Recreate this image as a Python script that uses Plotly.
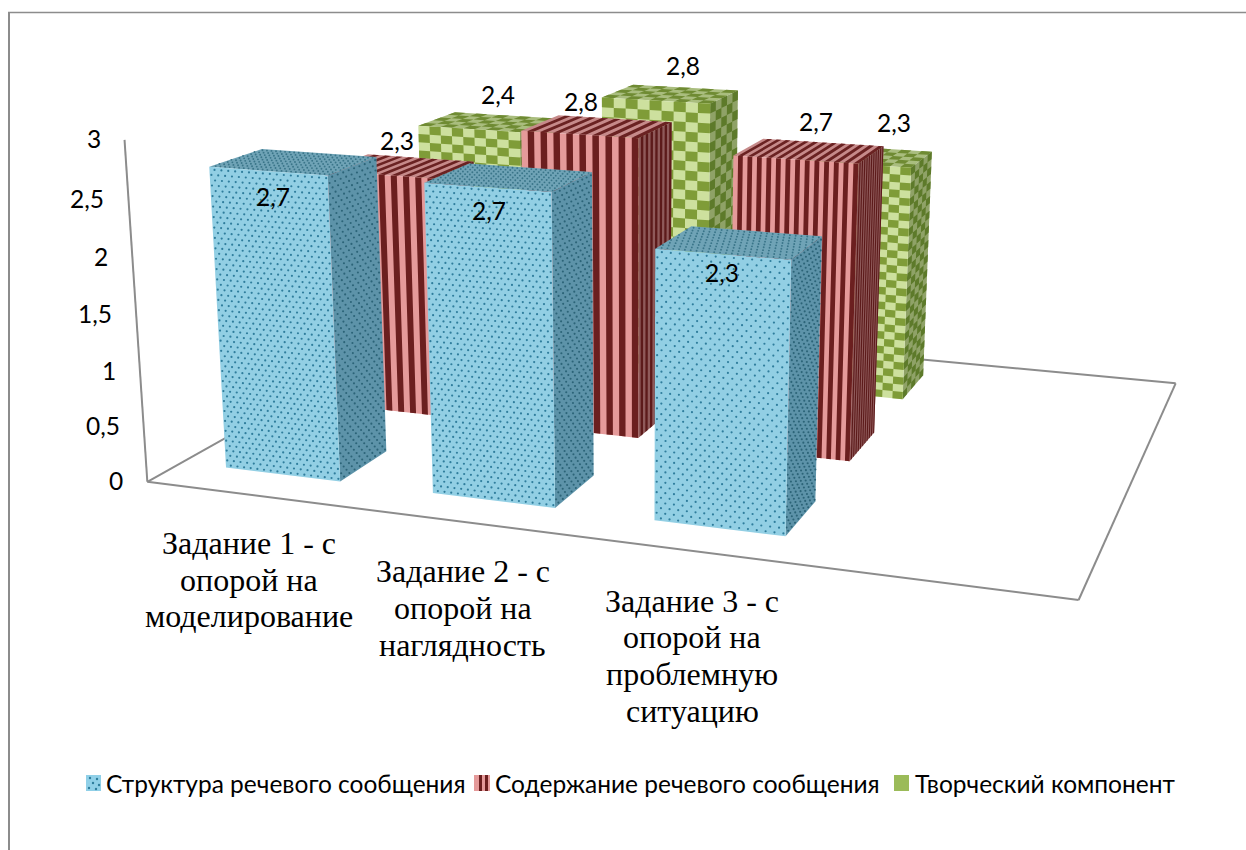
import numpy as np
import plotly.graph_objects as go

# ---------- data ----------
CATEGORIES = ["Задание 1 - с\nопорой на\nмоделирование",
              "Задание 2 - с\nопорой на\nнаглядность",
              "Задание 3 - с\nопорой на\nпроблемную\nситуацию"]
SERIES = ["Структура речевого сообщения", "Содержание речевого сообщения", "Творческий компонент"]
STRUCTURE = [2.7, 2.7, 2.3]
CONTENT = [2.3, 2.8, 2.7]
CREATIVE = [2.4, 2.8, 2.3]
Y_TICKS = [0, 0.5, 1, 1.5, 2, 2.5, 3]
Y_TICK_LABELS = ["0", "0,5", "1", "1,5", "2", "2,5", "3"]

# ---------- 3D box geometry ----------
N_CATS = 4          # the floor has one empty slot
N_ROWS = 3
Y_MAX = 3
U_OFF, U_W = 0.22, 0.56
W_OFF, W_D = 0.28, 0.44

def box(i, j):
    return i + U_OFF, i + U_OFF + U_W, j + W_OFF, j + W_OFF + W_D

# camera calibration: (u, w, v) -> pixel, solved by least squares
def cam_pts():
    pts = []
    for _ in range(4):
        pts += [((0, 0, 0), (147, 482)), ((4, 0, 0), (1078, 601)),
                ((4, 3, 0), (1175, 382)), ((0, 0, 3), (125, 140))]
    def add(i, j, h, fl=None, fr=None, br=None, bl=None, bfl=None, bfr=None, bbr=None):
        u0, u1, w0, w1 = box(i, j)
        for c, p in [((u0, w0, h), fl), ((u1, w0, h), fr), ((u1, w1, h), br), ((u0, w1, h), bl),
                     ((u0, w0, 0), bfl), ((u1, w0, 0), bfr), ((u1, w1, 0), bbr)]:
            if p:
                pts.append((c, p))
    add(0, 0, 2.7, (211, 166), (331, 173), (372, 158), (257, 151), (227, 465), (343, 480), (383, 452))
    add(1, 0, 2.7, (423, 182), (553, 190), (589, 173), (472, 165), (432, 491), (557, 507), (592, 478))
    add(2, 0, 2.3, (653, 249), (790, 256), (820, 238), (705, 228), (653, 518), (785, 535), (817, 505))
    add(1, 1, 2.8, (522, 130), (635, 138), (670, 123), (557, 117), None, (640, 437), (667, 413))
    add(2, 1, 2.7, (733, 155), (860, 163), (882, 148), (760, 139), None, (851, 461), (875, 435))
    add(0, 2, 2.4, (420, 125), None, None, (455, 113))
    add(1, 2, 2.8, (603, 96), (712, 102), (737, 92), (633, 85))
    add(2, 2, 2.3, None, (913, 165), (932, 153), None, None, (906, 399), (924, 377))
    return pts

rows = []
for (u, w, v), (x, y) in cam_pts():
    X, Y = x / 1000, y / 1000
    rows.append([u, w, v, 1, 0, 0, 0, 0, -X*u, -X*w, -X*v, -X])
    rows.append([0, 0, 0, 0, u, w, v, 1, -Y*u, -Y*w, -Y*v, -Y])
CAM = np.linalg.svd(np.array(rows, float))[2][-1].reshape(3, 4)

def proj(u, w, v):
    q = CAM @ np.array([u, w, v, 1.0])
    return float(q[0] / q[2] * 1000), float(q[1] / q[2] * 1000)

# ---------- face styles ----------
BLUE = dict(front=("#92cfe4", "#2f7d9c"), side=("#5d93a9", "#2c6478"), top=("#6fa3b6", "#3a7589"))
RED = dict(front=("#e59a9a", "#6b1f1f"), side=("#8f5a5a", "#5c1a1a"), top=("#c68a8a", "#6a2222"))
GREEN = dict(front=("#cde09e", "#7f9c38"), side=("#8fa267", "#5d7a2a"), top=("#a9bd7e", "#6f8b33"))
DOT_FRONT = [17, 18, 15]
STRIPE_FRONT = [9, 9, 13]
STRIPE_SIDE = [6, 7, 11]
CHECK_COLS = [9, 9, 11]
CHECK_ROWS = [28, 29, 31]

fig = go.Figure()

def face_point(corners, s, t):
    a, b, c, d = [np.array(k, float) for k in corners]   # a->b along s, a->d along t
    p = a + (b - a) * s + (d - a) * t + (a - b + c - d) * s * t
    return proj(*p)

def add_poly(polys, color, name):
    xs, ys = [], []
    for poly in polys:
        xs += [p[0] for p in poly] + [poly[0][0], None]
        ys += [p[1] for p in poly] + [poly[0][1], None]
    fig.add_trace(go.Scatter(x=xs, y=ys, mode="lines", fill="toself", fillcolor=color,
                             line=dict(width=0, color=color), name=name, showlegend=False,
                             hoverinfo="skip"))

def sub(corners, s0, s1, t0, t1):
    return [face_point(corners, s0, t0), face_point(corners, s1, t0),
            face_point(corners, s1, t1), face_point(corners, s0, t1)]

def add_stripes(corners, n, color, name):
    # each period: light then dark; first half stays the base colour
    add_poly([sub(corners, (k + 0.5) / n, (k + 1) / n, 0, 1) for k in range(n)], color, name)

def add_checks(corners, nc, nr, color, name):
    polys = [sub(corners, c / nc, (c + 1) / nc, r / nr, (r + 1) / nr)
             for c in range(nc) for r in range(nr) if (c + r) % 2 == 0]
    add_poly(polys, color, name)

def add_dots(corners, nc, nr, color, name, size=2.4):
    xs, ys = [], []
    for r in range(nr):
        for c in range(nc):
            s = (c + (0.25 if r % 2 else 0.75)) / nc
            t = (r + 0.5) / nr
            x, y = face_point(corners, s, t)
            xs.append(x)
            ys.append(y)
    fig.add_trace(go.Scatter(x=xs, y=ys, mode="markers", name=name, showlegend=False,
                             marker=dict(size=size, color=color, line=dict(width=0)),
                             hoverinfo="skip"))

def faces(i, j, h):
    u0, u1, w0, w1 = box(i, j)
    front = [(u0, w0, 0), (u1, w0, 0), (u1, w0, h), (u0, w0, h)]
    side = [(u1, w0, 0), (u1, w1, 0), (u1, w1, h), (u1, w0, h)]
    top = [(u0, w0, h), (u1, w0, h), (u1, w1, h), (u0, w1, h)]
    return front, side, top

def draw_bar(i, j, h):
    name = f"{SERIES[j]}: {CATEGORIES[i].split(chr(10))[0]}"
    front, side, top = faces(i, j, h)
    style = [BLUE, RED, GREEN][j]
    for key, f in [("top", top), ("side", side), ("front", front)]:
        base, ink = style[key]
        add_poly([[proj(*p) for p in f]], base, name)
        if j == 0:
            n = DOT_FRONT[i]
            rows_ = int(round(h * 22))
            if key == "front":
                add_dots(f, n, rows_, ink, name, 2.2)
            elif key == "side":
                add_dots(f, 9, rows_, ink, name, 2.1)
            else:
                add_dots(f, n + 8, 9, ink, name, 1.9)
        elif j == 1:
            if key == "side":
                add_stripes(f, STRIPE_SIDE[i], ink, name)
            else:
                add_stripes(f, STRIPE_FRONT[i], ink, name)
        else:
            cols, rws = CHECK_COLS[i], CHECK_ROWS[i]
            if key == "front":
                add_checks(f, cols, rws, ink, name)
            elif key == "side":
                add_checks(f, 5, rws, ink, name)
            else:
                add_checks(f, cols, 5, ink, name)

# ---------- floor / axis lines ----------
def add_line(a, b):
    p, q = proj(*a), proj(*b)
    fig.add_trace(go.Scatter(x=[p[0], q[0]], y=[p[1], q[1]], mode="lines",
                             line=dict(color="#8c8c8c", width=2), showlegend=False,
                             hoverinfo="skip", name="axis"))

add_line((0, 3, 0), (N_CATS, N_ROWS, 0))
add_line((N_CATS, N_ROWS, 0), (N_CATS, 0, 0))
add_line((0, 0, 0), (0, N_ROWS, 0))
add_line((0, 0, 0), (N_CATS, 0, 0))
add_line((0, 0, 0), (0, 0, Y_MAX))

VALUES = [STRUCTURE, CONTENT, CREATIVE]
for j in (2, 1, 0):
    for i in range(3):
        draw_bar(i, j, VALUES[j][i])

# ---------- text ----------
ann = []
def text(x, y, s, size, family, anchor="center"):
    ann.append(dict(x=x, y=y, xref="x", yref="y", text=s, showarrow=False, xanchor=anchor,
                    yanchor="middle", font=dict(size=size, family=family, color="#000000")))

SANS = "Lato, Carlito, Calibri, 'Open Sans', sans-serif"
SERIF = "'Liberation Serif', 'Times New Roman', serif"

for v, lab in zip(Y_TICKS, Y_TICK_LABELS):
    x, y = proj(0, 0, v)
    text(x - 22, y - 1, lab, 24.5, SANS, "right")

LABEL_OFFSET = [[(-21, 35), (-20, 33), (-18, 30)],
                [(-3, -26), (-16, -25), (7, -29)],
                [(11, -27), (12, -28), (29, -33)]]
for j in range(3):
    for i in range(3):
        u0, u1, w0, w1 = box(i, j)
        x, y = proj((u0 + u1) / 2, (w0 + w1) / 2, VALUES[j][i])
        dx, dy = LABEL_OFFSET[j][i]
        text(x + dx, y + dy, f"{VALUES[j][i]}".replace(".", ","), 24.5, SANS)

CAT_OFFSET = [(-1, 48), (-3, 49), (-5, 49)]
for i, cat in enumerate(CATEGORIES):
    x, y = proj(i + 0.5, 0, 0)
    for k, line in enumerate(cat.split("\n")):
        text(x + CAT_OFFSET[i][0], y + CAT_OFFSET[i][1] + k * 36.7, line, 32, SERIF)

# ---------- legend ----------
LEG_X = [(86, 101, 104), (474, 490, 493), (894, 909, 913)]
LEG_Y0, LEG_Y1 = 775, 791
for j, (x0, x1, tx) in enumerate(LEG_X):
    sq = [(x0, LEG_Y0), (x1, LEG_Y0), (x1, LEG_Y1), (x0, LEG_Y1)]
    base = ["#90d0e8", "#e59a9a", "#9bbb59"][j]
    add_poly([sq], base, SERIES[j])
    if j == 0:
        fig.add_trace(go.Scatter(x=[x0 + 4, x0 + 11, x0 + 7, x0 + 13, x0 + 3, x0 + 10],
                                 y=[LEG_Y0 + 3, LEG_Y0 + 4, LEG_Y0 + 8, LEG_Y0 + 10, LEG_Y0 + 13, LEG_Y0 + 14],
                                 mode="markers", marker=dict(size=2.4, color="#2f7d9c"),
                                 showlegend=False, hoverinfo="skip", name=SERIES[j]))
    if j == 1:
        add_poly([[(x0 + 5, LEG_Y0), (x0 + 8, LEG_Y0), (x0 + 8, LEG_Y1), (x0 + 5, LEG_Y1)],
                  [(x0 + 11, LEG_Y0), (x0 + 14, LEG_Y0), (x0 + 14, LEG_Y1), (x0 + 11, LEG_Y1)]],
                 "#6b1f1f", SERIES[j])
    text(tx, 783, SERIES[j], 24.5, SANS, "left")

shapes = [dict(type="line", xref="x", yref="y", x0=9, x1=9, y0=12, y1=850,
               line=dict(color="#8c8c8c", width=2)),
          dict(type="line", xref="x", yref="y", x0=8, x1=1246, y0=12.5, y1=12.5,
               line=dict(color="#8c8c8c", width=1.5))]

fig.update_layout(width=1246, height=850, margin=dict(l=0, r=0, t=0, b=0),
                  paper_bgcolor="#ffffff", plot_bgcolor="#ffffff", showlegend=False,
                  hovermode=False, annotations=ann, shapes=shapes,
                  xaxis=dict(range=[0, 1246], visible=False, fixedrange=True),
                  yaxis=dict(range=[850, 0], visible=False, fixedrange=True))

fig.write_html("out.html", config=dict(displayModeBar=False),
               post_script="document.body.style.margin='0';document.body.style.overflow='hidden';")
